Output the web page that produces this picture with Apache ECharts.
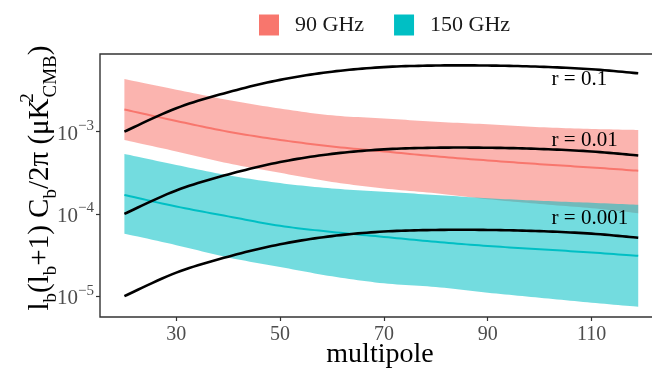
<!DOCTYPE html>
<html>
<head>
<meta charset="utf-8">
<script src="https://cdn.jsdelivr.net/npm/echarts@6/dist/echarts.min.js"></script>
<style>
html,body{margin:0;padding:0;background:#fff;}
#c{width:652px;height:373px;}
</style>
</head>
<body>
<div id="c"></div>
<script>
// ---- data ----
const multipole = [20, 30, 40, 50, 60, 70, 80, 90, 100, 110, 119];

const ghz90Center = [1.86e-3, 1.35e-3, 1.0e-3, 7.94e-4, 6.61e-4, 5.75e-4, 5.01e-4, 4.47e-4, 4.03e-4, 3.67e-4, 3.35e-4];
const ghz90Upper  = [4.37e-3, 3.24e-3, 2.43e-3, 1.91e-3, 1.58e-3, 1.45e-3, 1.32e-3, 1.23e-3, 1.135e-3, 1.08e-3, 1.05e-3];
const ghz90Lower  = [7.94e-4, 5.75e-4, 4.12e-4, 3.16e-4, 2.45e-4, 2.04e-4, 1.78e-4, 1.51e-4, 1.32e-4, 1.175e-4, 1.02e-4];

const ghz150Center = [1.70e-4, 1.23e-4, 9.33e-5, 7.16e-5, 6.03e-5, 5.25e-5, 4.57e-5, 4.07e-5, 3.72e-5, 3.39e-5, 3.09e-5];
const ghz150Upper  = [5.37e-4, 3.94e-4, 2.95e-4, 2.37e-4, 2.04e-4, 1.86e-4, 1.70e-4, 1.55e-4, 1.445e-4, 1.365e-4, 1.29e-4];
const ghz150Lower  = [5.75e-5, 4.17e-5, 2.95e-5, 2.26e-5, 1.74e-5, 1.43e-5, 1.29e-5, 1.10e-5, 9.55e-6, 8.32e-6, 7.41e-6];

const r0_1   = [1.0e-3, 1.93e-3, 3.02e-3, 4.27e-3, 5.37e-3, 6.10e-3, 6.38e-3, 6.38e-3, 6.17e-3, 5.75e-3, 5.13e-3];
const r0_01  = [1.0e-4, 1.93e-4, 3.02e-4, 4.27e-4, 5.37e-4, 6.10e-4, 6.38e-4, 6.38e-4, 6.17e-4, 5.75e-4, 5.13e-4];
const r0_001 = [1.0e-5, 1.93e-5, 3.02e-5, 4.27e-5, 5.37e-5, 6.10e-5, 6.38e-5, 6.38e-5, 6.17e-5, 5.75e-5, 5.13e-5];

const rLabels = ['r = 0.1', 'r = 0.01', 'r = 0.001'];
const rLabelX = [102.3, 102.3, 102.3];
const rLabelY = [4.26e-3, 7.9e-4, 8.9e-5];

const xTicks = [30, 50, 70, 90, 110];
const yTicks = [1e-5, 1e-4, 1e-3];
const yTickExp = ['−5', '−4', '−3'];
const legendNames = ['90 GHz', '150 GHz'];
const xTitle = 'multipole';

// ---- chart ----
const PINK = '#F8766D', CYAN = '#00BFC4';
const SERIF = '"Liberation Serif", "DejaVu Serif", serif';

// Catmull-Rom spline through pixel points (rendering only)
function spline(pts) {
  const out = [];
  const n = pts.length;
  for (let i = 0; i < n - 1; i++) {
    const p0 = pts[Math.max(i - 1, 0)], p1 = pts[i], p2 = pts[i + 1], p3 = pts[Math.min(i + 2, n - 1)];
    for (let s = 0; s < 12; s++) {
      const t = s / 12, t2 = t * t, t3 = t2 * t;
      const f = (a, b, c, d) => 0.5 * ((2 * b) + (-a + c) * t + (2 * a - 5 * b + 4 * c - d) * t2 + (-a + 3 * b - 3 * c + d) * t3);
      out.push([f(p0[0], p1[0], p2[0], p3[0]), f(p0[1], p1[1], p2[1], p3[1])]);
    }
  }
  out.push(pts[n - 1]);
  return out;
}

function band(name, lo, hi, color) {
  return {
    name: name, type: 'custom', silent: true, z: 2,
    itemStyle: { color: color },
    data: multipole.map((x, i) => [x, lo[i], hi[i]]),
    encode: { x: 0, y: [1, 2] },
    renderItem: function (params, api) {
      if (params.dataIndex !== 0) return null;
      const up = spline(multipole.map((x, i) => api.coord([x, hi[i]])));
      const dn = spline(multipole.map((x, i) => api.coord([x, lo[i]])));
      return { type: 'polygon', shape: { points: up.concat(dn.reverse()) },
        style: { fill: color, opacity: 0.55 } };
    }
  };
}
function curve(name, ys, color, width, z) {
  return {
    name: name, type: 'custom', silent: true, z: z,
    itemStyle: { color: color },
    data: multipole.map((x, i) => [x, ys[i]]),
    encode: { x: 0, y: 1 },
    renderItem: function (params, api) {
      if (params.dataIndex !== 0) return null;
      const pts = spline(multipole.map((x, i) => api.coord([x, ys[i]])));
      return { type: 'polyline', shape: { points: pts },
        style: { stroke: color, lineWidth: width, fill: null, lineJoin: 'round', lineCap: 'butt' } };
    }
  };
}

const chart = echarts.init(document.getElementById('c'), null, { renderer: 'canvas' });
chart.setOption({
  animation: false,
  backgroundColor: '#ffffff',
  legend: {
    data: [
      { name: legendNames[0], icon: 'rect', itemStyle: { color: PINK, opacity: 1 } },
      { name: legendNames[1], icon: 'rect', itemStyle: { color: CYAN, opacity: 1 } }
    ],
    left: 254, top: 9, itemWidth: 20, itemHeight: 21, itemGap: 30,
    textStyle: { fontFamily: SERIF, fontSize: 22, color: '#1a1a1a', padding: [0, 0, 0, 11] },
    selectedMode: false
  },
  grid: { left: 100, top: 54, width: 554, height: 263, show: true, outerBoundsMode: 'none',
    borderColor: '#333333', borderWidth: 1.4, backgroundColor: '#ffffff' },
  xAxis: {
    type: 'value', min: 15.3, max: 122.04,
    axisLine: { show: false },
    axisTick: { show: true, length: 4, lineStyle: { color: '#333', width: 1.2 }, customValues: xTicks },
    axisLabel: { fontFamily: SERIF, fontSize: 20, color: '#4D4D4D', margin: 8, customValues: xTicks },
    splitLine: { show: false }
  },
  yAxis: {
    type: 'log', logBase: 10, min: 5.57e-6, max: 8.81e-3,
    axisLine: { show: false },
    axisTick: { show: true, length: 4, lineStyle: { color: '#333', width: 1.2 }, customValues: yTicks },
    axisLabel: {
      margin: 6, customValues: yTicks,
      formatter: function (v) {
        const i = yTicks.findIndex(t => Math.abs(t - v) / t < 1e-6);
        return '{b|10}{s|' + (i >= 0 ? yTickExp[i] : '') + '}';
      },
      rich: {
        b: { fontFamily: SERIF, fontSize: 21, color: '#4D4D4D', lineHeight: 26, verticalAlign: 'bottom' },
        s: { fontFamily: SERIF, fontSize: 15, color: '#4D4D4D', lineHeight: 15, verticalAlign: 'top' }
      }
    },
    splitLine: { show: false }
  },
  graphic: [{
    type: 'text', x: 40, y: 178, rotation: Math.PI / 2,
    style: {
      text: 'l{sub|b}(l{sub|b}+1) C{sub|b}/2π (μK{sup|2}{sub2|CMB})',
      align: 'center', verticalAlign: 'middle',
      font: '29px ' + SERIF, fill: '#000',
      rich: {
        sub: { fontFamily: SERIF, fontSize: 19, lineHeight: 19, verticalAlign: 'bottom', fill: '#000' },
        sup: { fontFamily: SERIF, fontSize: 19, lineHeight: 19, verticalAlign: 'top', width: 1, fill: '#000' },
        sub2: { fontFamily: SERIF, fontSize: 19, lineHeight: 19, verticalAlign: 'bottom', fill: '#000' }
      },
      lineHeight: 42
    }
  }, {
    type: 'text', x: 380, y: 355,
    style: { text: xTitle, align: 'center', verticalAlign: 'middle', font: '28px ' + SERIF, fill: '#000' }
  }],
  series: [
    band(legendNames[0], ghz90Lower, ghz90Upper, PINK),
    band(legendNames[1], ghz150Lower, ghz150Upper, CYAN),
    curve('c90', ghz90Center, PINK, 2, 4),
    curve('c150', ghz150Center, CYAN, 2, 4),
    curve('r0.1', r0_1, '#000', 2.6, 5),
    curve('r0.01', r0_01, '#000', 2.6, 5),
    curve('r0.001', r0_001, '#000', 2.6, 5),
    {
      name: 'rlab', type: 'custom', silent: true, z: 6,
      data: rLabels.map((t, i) => [rLabelX[i], rLabelY[i]]),
      encode: { x: 0, y: 1 },
      renderItem: function (params, api) {
        const p = api.coord([api.value(0), api.value(1)]);
        return { type: 'text', x: p[0], y: p[1],
          style: { text: rLabels[params.dataIndex], fill: '#000', font: '21px ' + SERIF,
            align: 'left', verticalAlign: 'middle' } };
      }
    }
  ]
});
</script>
</body>
</html>
